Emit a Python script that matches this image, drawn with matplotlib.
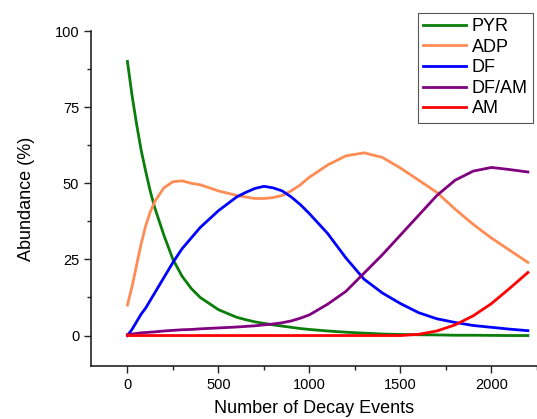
import numpy as np
import matplotlib
matplotlib.use("Agg")
import matplotlib.pyplot as plt
from matplotlib.ticker import MultipleLocator

plt.rcParams["font.family"] = ["Liberation Sans", "DejaVu Sans"]

########## Data
events = [0, 25, 50, 75, 100, 125, 150, 200, 250, 300, 350, 400,
          500, 600, 650, 700, 750, 800, 850, 900, 950, 1000, 1100, 1200, 1300, 1400,
          1500, 1600, 1700, 1800, 1900, 2000, 2100, 2200]

pyr = [90, 79, 69.5, 61, 54, 47.5, 42, 33, 25, 19.5, 15.5, 12.5,
       8.5, 6, 5.2, 4.5, 4, 3.5, 3.1, 2.7, 2.3, 2, 1.5, 1.1, 0.8, 0.5,
       0.35, 0.25, 0.2, 0.1, 0.1, 0.05, 0, 0]

adp = [10, 16, 23, 30, 36, 40.5, 44, 48.5, 50.5, 50.8, 50, 49.5,
       47.5, 46, 45.5, 45, 45, 45.3, 46, 47.5, 49.5, 52, 56, 59, 60, 58.5,
       55, 51, 47, 41.5, 36.5, 32, 28, 24]

df = [0, 2, 4.5, 7, 9, 11.5, 14, 19, 24, 28.5, 32, 35.5,
      41, 45.5, 47, 48.3, 49, 48.5, 47.5, 45.5, 43, 40, 33.5, 25.5, 18.5, 14,
      10.5, 7.5, 5.5, 4.3, 3.3, 2.7, 2.1, 1.6]

df_am = [0.3, 0.5, 0.7, 0.9, 1.0, 1.1, 1.2, 1.5, 1.7, 1.9, 2.0, 2.2,
         2.5, 2.8, 3, 3.2, 3.5, 3.8, 4.2, 4.8, 5.7, 6.8, 10.3, 14.5, 20.5, 26.5,
         33, 39.5, 46, 51, 54, 55.2, 54.5, 53.7]

am = [0, 0, 0, 0, 0, 0, 0, 0, 0, 0, 0, 0,
      0, 0, 0, 0, 0, 0, 0, 0, 0, 0, 0, 0, 0, 0,
      0, 0.4, 1.5, 3.5, 6.5, 10.5, 15.5, 20.7]

labels = ["PYR", "ADP", "DF", "DF/AM", "AM"]
colors = ["#0a7d0a", "#ff8c55", "#0000ff", "#800080", "#ff0000"]

########## Plot
fig = plt.figure(figsize=(5.37, 4.19), dpi=100)
ax = fig.add_axes([0.1695, 0.1265, 0.8305, 0.7995])

for series, label, color in zip([pyr, adp, df, df_am, am], labels, colors):
    ax.plot(events, series, color=color, lw=2, label=label)

ax.set_xlim(-200, 2250)
ax.set_ylim(-10, 100)
ax.set_xticks([0, 500, 1000, 1500, 2000])
ax.set_yticks([0, 25, 50, 75, 100])
ax.xaxis.set_minor_locator(MultipleLocator(250))
ax.yaxis.set_minor_locator(MultipleLocator(12.5))
ax.tick_params(which="major", length=5, width=1, labelsize=10.5, color="#222222")
ax.tick_params(which="minor", length=3, width=1, color="#222222")

ax.spines["top"].set_visible(False)
ax.spines["right"].set_visible(False)
for s in ["left", "bottom"]:
    ax.spines[s].set_linewidth(1.2)
    ax.spines[s].set_color("#222222")

ax.set_xlabel("Number of Decay Events", fontsize=13, labelpad=6)
ax.set_ylabel("Abundance (%)", fontsize=13, labelpad=14)

leg = ax.legend(loc="upper right", bbox_to_anchor=(0.993, 0.97),
                bbox_transform=fig.transFigure, fontsize=13,
                fancybox=False, framealpha=1, edgecolor="#555555",
                handlelength=2.4, handletextpad=0.3, labelspacing=0.2,
                borderpad=0.3, borderaxespad=0)
leg.get_frame().set_linewidth(0.8)

fig.savefig("out.png", dpi=100)
